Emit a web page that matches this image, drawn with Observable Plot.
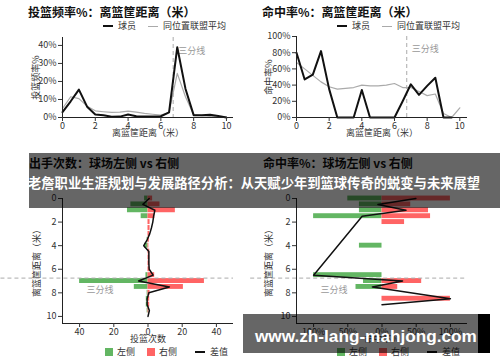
<!DOCTYPE html>
<html><head><meta charset="utf-8">
<script src="https://cdn.jsdelivr.net/npm/d3@7"></script>
<script src="https://cdn.jsdelivr.net/npm/@observablehq/plot@0.6"></script>
<style>
body{margin:0;background:#fff;font-family:"Noto Sans CJK SC","Noto Sans",sans-serif;}
#root{position:relative;width:500px;height:362px;overflow:hidden;background:#fff;}
.title{font-size:12px;font-weight:bold;color:#111;white-space:nowrap;line-height:14px;}
.leg{font-size:9px;color:#333;white-space:nowrap;display:flex;align-items:center;line-height:10px;}
.leg .ln{display:inline-block;width:10px;margin-right:5px;}
.leg .sq{display:inline-block;width:8px;height:8px;margin-right:4px;}
.leg span.t{margin-right:12px;}
.overlay{background:rgba(0,0,0,0.6);}
.banner{color:#fff;font-weight:bold;white-space:nowrap;}
</style></head>
<body><div id="root"></div>
<script>
// ---------- data ----------
const dist = [0,0.5,1,1.5,2,2.5,3,3.5,4,4.5,5,5.5,6,6.5,7,7.5,8,8.5,9,9.5,10];
const threePt = 6.75;
// top-left: shot frequency %
const playerFreq = [3,9,15.5,6,1.7,1.2,0.4,0.5,1.7,0.7,0.5,0.5,0.7,2.8,39,16,1.3,1.2,1.5,0.8,0];
const leagueFreq = [5,11.5,10.5,6.3,3.7,3.2,2.8,3,3.5,3,2.3,1.8,1.3,2.8,24.5,11.5,1.5,1,0.6,0.3,0.2];
// top-right: FG %
const fgDist = [0,0.5,1,1.5,2,2.5,3,3.5,4,4.5,5,5.5,6,6.5,7,7.5,8,8.5,9,9.5];
const playerFG = [80,47,53,82,35,0,0,0,34,0,0,0,0,20,41,28,39,49,0,0];
const leagueFG = [68,60,52,44,38,35,36,37,40,39,39,40,42,37,37,32,27,29,5,0,12];
// bottom-left: shot counts left vs right
const leftShots  = [2,10,12,4,0,0,0,0.5,2,0,0,0,0,1.2,40,8,0.5,1,1,0.5,0];
const rightShots = [2.7,7,16,4,1.2,1.2,1,0.8,0.5,1,1,1,1,3.9,33,20.7,1.2,1,1,0.5,0];
const diffShots  = [0.7,-3,4,3.3,2.8,2,1,-0.5,-2.5,0.5,0.5,0.5,0.7,3,-5.5,12.5,0.5,-0.5,-0.5,0.8,0];
// bottom-right: FG % left vs right
const fgBins  = [0,0.5,1,1.5,2,4,6.5,7,7.5,8.5];
const leftFG  = [50,33,33,100,0,33,100,27,38,0];
const rightFG = [100,42,68,71,33,0,0,58,23,100];
const diffBins = [0,0.5,1,1.5,6.5,7,7.5,8.5,9];
const diffFG   = [49.5,-6,35,-29,-100,30,-14,100,0];
// annotation positions (data units)
const tlLabel = {x:6.75, y:37};
const trLabel = {x:6.75, y:84};
const blLabel = {x:-36, y:7.8};
const brLabel = {x:-90, y:7.8};

const GREEN = "#63b663", RED = "#ff6464";
const style = {fontSize:"9px", fontFamily:'"Noto Sans CJK SC","Noto Sans",sans-serif', color:"#333", background:"transparent", overflow:"visible"};
const root = document.getElementById("root");
function place(el, left, top){ el.style.position="absolute"; el.style.left=left+"px"; el.style.top=top+"px"; root.appendChild(el); }
function html(s, cls, left, top){ const d=document.createElement("div"); d.className=cls; d.innerHTML=s; place(d,left,top); return d; }

// ---------- top-left ----------
const tl = Plot.plot({
  width:250, height:115, marginLeft:62, marginRight:17, marginTop:9, marginBottom:26,
  x:{domain:[0,10.43]}, y:{domain:[0,44.4]}, style,
  marks:[
    Plot.ruleX([threePt],{stroke:"#aaa",strokeDasharray:"4,3"}),
    Plot.text(["三分线"],{x:tlLabel.x,y:tlLabel.y,dx:5,textAnchor:"start",fill:"#999",fontSize:9}),
    Plot.line(leagueFreq,{x:(d,i)=>dist[i],y:d=>d,stroke:"#aaa",strokeWidth:1.2}),
    Plot.line(playerFreq,{x:(d,i)=>dist[i],y:d=>d,stroke:"#111",strokeWidth:2}),
    Plot.ruleY([0],{stroke:"#222"}), Plot.ruleX([0],{stroke:"#222"}),
    Plot.axisX({ticks:[0,2,4,6,8,10],tickSize:4,tickPadding:1,label:"离篮筐距离（米）",labelAnchor:"center",labelArrow:"none",labelOffset:18}),
    Plot.axisY({ticks:[0,10,20,30,40],tickFormat:d=>d+"%",tickSize:4,tickPadding:2,label:"投篮频率%",labelAnchor:"center",labelArrow:"none",labelOffset:30})
  ]
});
place(tl,0,28);

// ---------- top-right ----------
const tr = Plot.plot({
  width:250, height:115, marginLeft:46, marginRight:33, marginTop:8, marginBottom:26,
  x:{domain:[0,10.47]}, y:{domain:[0,100]}, style,
  marks:[
    Plot.ruleX([threePt],{stroke:"#aaa",strokeDasharray:"4,3"}),
    Plot.text(["三分线"],{x:trLabel.x,y:trLabel.y,dx:5,textAnchor:"start",fill:"#999",fontSize:9}),
    Plot.line(leagueFG,{x:(d,i)=>dist[i],y:d=>d,stroke:"#aaa",strokeWidth:1.2}),
    Plot.line(playerFG,{x:(d,i)=>fgDist[i],y:d=>d,stroke:"#111",strokeWidth:2}),
    Plot.ruleY([0],{stroke:"#222"}), Plot.ruleX([0],{stroke:"#222"}),
    Plot.axisX({ticks:[0,2,4,6,8,10],tickSize:4,tickPadding:1,label:"离篮筐距离（米）",labelAnchor:"center",labelArrow:"none",labelOffset:18}),
    Plot.axisY({ticks:[0,20,40,60,80,100],tickFormat:d=>d+"%",tickSize:4,tickPadding:2,label:"命中率%",labelAnchor:"center",labelArrow:"none",labelOffset:31})
  ]
});
place(tr,250,28);

// ---------- bottom-left ----------
const bl = Plot.plot({
  width:250, height:163, marginLeft:62, marginRight:17, marginTop:13, marginBottom:25,
  x:{domain:[-50,50]}, y:{domain:[0,10.6], reverse:true}, style,
  marks:[
    Plot.rect(leftShots.map((v,i)=>({d:dist[i],v})).filter(o=>o.v>0),{x1:0,x2:o=>-o.v,y1:o=>o.d-0.25,y2:o=>o.d+0.25,fill:GREEN,insetTop:0.5,insetBottom:0.5}),
    Plot.rect(rightShots.map((v,i)=>({d:dist[i],v})).filter(o=>o.v>0),{x1:0,x2:o=>o.v,y1:o=>o.d-0.25,y2:o=>o.d+0.25,fill:RED,insetTop:0.5,insetBottom:0.5}),
    Plot.ruleY([threePt],{x1:-86,x2:50,stroke:"#aaa",strokeDasharray:"4,3"}),
    Plot.text(["三分线"],{x:blLabel.x,y:blLabel.y,textAnchor:"start",fill:"#999",fontSize:9}),
    Plot.line(diffShots,{x:d=>d,y:(d,i)=>dist[i],stroke:"#111",strokeWidth:1.5}),
    Plot.ruleY([10.6],{stroke:"#222"}), Plot.ruleX([-50],{stroke:"#222"}),
    Plot.axisX({ticks:[-40,-20,0,20,40],tickFormat:d=>Math.abs(d),tickSize:4,tickPadding:1,label:"投篮次数",labelAnchor:"center",labelArrow:"none",labelOffset:18}),
    Plot.axisY({ticks:[0,2,4,6,8,10],tickSize:4,tickPadding:2,label:"离篮筐距离（米）",labelAnchor:"center",labelArrow:"none",labelOffset:29})
  ]
});
place(bl,0,185);

// ---------- bottom-right ----------
const fgRows = fgBins.map((d,i)=>({d,l:leftFG[i],r:rightFG[i]}));
const br = Plot.plot({
  width:250, height:163, marginLeft:46, marginRight:33, marginTop:13, marginBottom:25,
  x:{domain:[-125,125]}, y:{domain:[0,10.6], reverse:true}, style,
  marks:[
    Plot.rect(fgRows.filter(o=>o.l>0),{x1:0,x2:o=>-o.l,y1:o=>o.d-0.25,y2:o=>o.d+0.25,fill:GREEN,insetTop:0.5,insetBottom:0.5}),
    Plot.rect(fgRows.filter(o=>o.r>0),{x1:0,x2:o=>o.r,y1:o=>o.d-0.25,y2:o=>o.d+0.25,fill:RED,insetTop:0.5,insetBottom:0.5}),
    Plot.ruleY([threePt],{x1:-192,x2:125,stroke:"#aaa",strokeDasharray:"4,3"}),
    Plot.text(["三分线"],{x:brLabel.x,y:brLabel.y,textAnchor:"start",fill:"#999",fontSize:9}),
    Plot.line(diffFG,{x:d=>d,y:(d,i)=>diffBins[i],stroke:"#111",strokeWidth:1.5}),
    Plot.ruleY([10.6],{stroke:"#222"}), Plot.ruleX([-125],{stroke:"#222"}),
    Plot.axisX({ticks:[-100,-50,0,50,100],tickFormat:d=>Math.abs(d)+"%",tickSize:4,tickPadding:1,label:"命中率%",labelAnchor:"center",labelArrow:"none",labelOffset:18}),
    Plot.axisY({ticks:[0,2,4,6,8,10],tickSize:4,tickPadding:2,label:"离篮筐距离（米）",labelAnchor:"center",labelArrow:"none",labelOffset:31})
  ]
});
place(br,250,185);

// ---------- titles & legends ----------
html("投篮频率%：离篮筐距离（米）","title",28,5);
html("命中率%：离篮筐距离（米）","title",262,5);
html("出手次数：球场左侧 vs 右侧","title",29,156);
html("命中率%：球场左侧 vs 右侧","title",263,156);
const lineLeg = '<span class="ln" style="border-top:2px solid #111"></span><span class="t">球员</span><span class="ln" style="border-top:1.2px solid #aaa"></span><span>同位置联盟平均</span>';
html(lineLeg,"leg",103,21);
html(lineLeg,"leg",337,21);
const barLeg = '<span class="sq" style="background:'+GREEN+'"></span><span class="t">左侧</span><span class="sq" style="background:'+RED+'"></span><span class="t" style="margin-right:18px">右侧</span><span class="ln" style="border-top:2px solid #111"></span><span>差值</span>';
html(barLeg,"leg",105,347);
html(barLeg,"leg",337,347);

// ---------- overlays ----------
const ov1 = html("","overlay",29,153); ov1.style.width="471px"; ov1.style.height="55px";
const t1 = html("老詹职业生涯规划与发展路径分析：从天赋少年到篮球传奇的蜕变与未来展望","banner",28,174);
t1.style.fontSize="13.3px"; t1.style.lineHeight="18px";
const ov2 = html("","overlay",243,314); ov2.style.width="235px"; ov2.style.height="39px";
const blk = html("","",478,314); blk.style.width="12px"; blk.style.height="39px"; blk.style.background="#000";
const t2 = html("www.zh-lang-mahjong.com","banner",255,324);
t2.style.fontFamily='"Liberation Sans",Arial,sans-serif'; t2.style.fontSize="17.2px"; t2.style.lineHeight="24px";
</script></body></html>
